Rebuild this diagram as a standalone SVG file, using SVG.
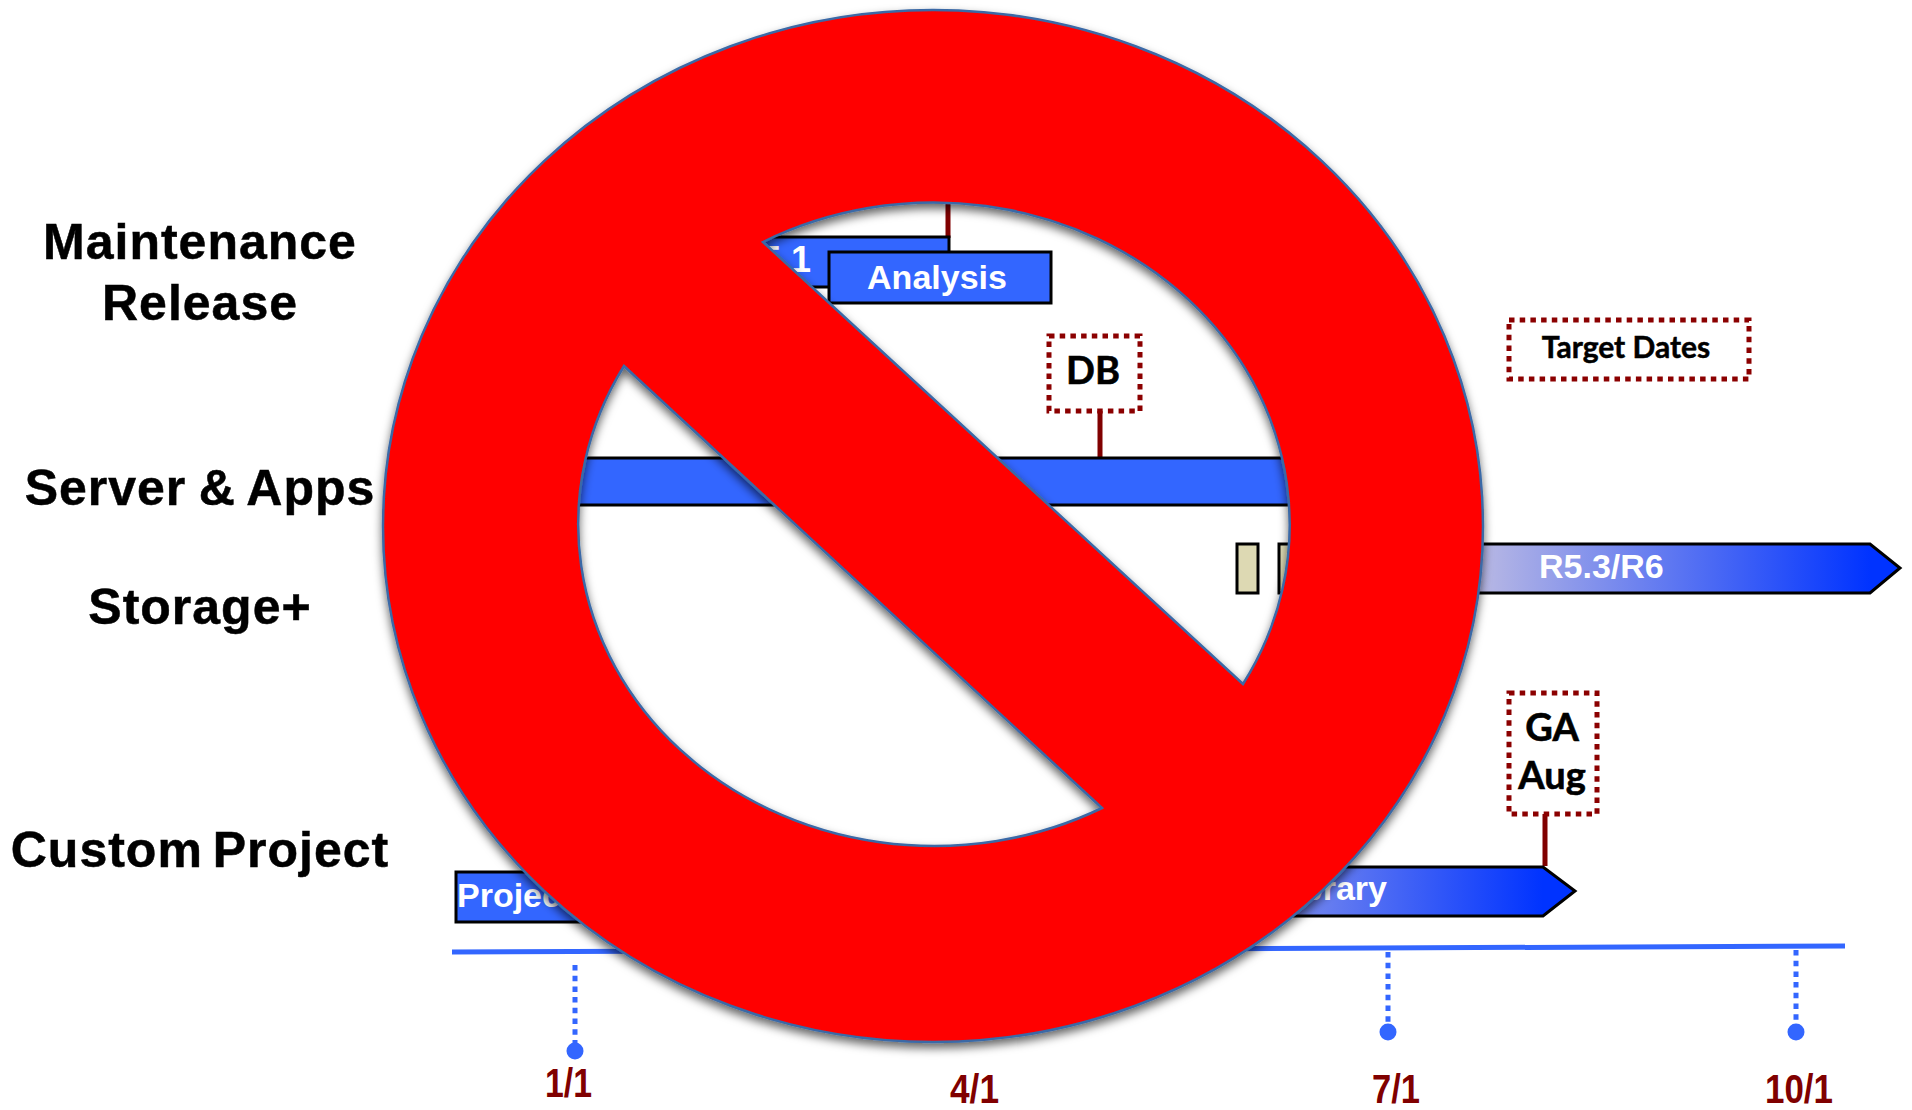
<svg xmlns="http://www.w3.org/2000/svg" width="1912" height="1110" viewBox="0 0 1912 1110">
<style>
.lab{font:bold 50px "Liberation Sans",Arial,sans-serif;fill:#000;stroke:#000;stroke-width:.5;text-anchor:middle;letter-spacing:1px}
.bar{font:bold 34px "Liberation Sans",Arial,sans-serif;fill:#fff}
.tgt{font:bold 38px Lato,"Open Sans",sans-serif;fill:#000;stroke:#000;stroke-width:.6;text-anchor:middle}
.date{font:bold 40px "Liberation Sans",Arial,sans-serif;fill:#800000}
.blue{fill:#3366ff;stroke:#000;stroke-width:3}
.grad{stroke:#000;stroke-width:3}
.beige{fill:#ddd9b3;stroke:#000;stroke-width:3}
.dot{fill:#fff;stroke:#8b0000;stroke-width:5;stroke-dasharray:5.5 5.2}
.stem{stroke:#800000;stroke-width:5;fill:none}
.tick{stroke:#3366ff;stroke-width:5;stroke-dasharray:5.5 5.2;fill:none}
.pin{fill:#3366ff}
</style>
<defs>
<linearGradient id="g1" gradientUnits="userSpaceOnUse" x1="1480" y1="0" x2="1870" y2="0"><stop offset="0" stop-color="#b8b8e4"/><stop offset="1" stop-color="#0033ff"/></linearGradient>
<linearGradient id="g2" gradientUnits="userSpaceOnUse" x1="1153" y1="0" x2="1543" y2="0"><stop offset="0" stop-color="#b8b8e4"/><stop offset="1" stop-color="#0033ff"/></linearGradient>
<filter id="sh" x="-5%" y="-5%" width="110%" height="112%"><feDropShadow dx="0" dy="5" stdDeviation="5" flood-color="#000" flood-opacity="0.6"/></filter>
</defs>
<rect width="1912" height="1110" fill="#fff"/>
<g id="labels">
<text class="lab" x="200" y="259">Maintenance</text>
<text class="lab" x="200" y="320">Release</text>
<text class="lab" x="200" y="505" word-spacing="-2.5">Server &amp; Apps</text>
<text class="lab" x="200" y="624">Storage+</text>
<text class="lab" x="200" y="867" word-spacing="-5">Custom Project</text>
</g>
<g id="connectors">
<path class="stem" d="M948 200V238M1100 411V457M1545 814V866"/>
<path d="M452 952L1845 946" stroke="#3366ff" stroke-width="5" fill="none"/>
<path class="tick" d="M575 965V1045M1388 952V1026M1796 950V1026"/>
<circle class="pin" cx="575" cy="1051" r="8.5"/>
<circle class="pin" cx="1388" cy="1032" r="8.5"/>
<circle class="pin" cx="1796" cy="1032" r="8.5"/>
</g>
<g id="maint-bar"><rect class="blue" x="700" y="237" width="249" height="50"/><text class="bar" style="font-size:36px" x="811" y="272" text-anchor="end">5.1</text></g>
<g id="analysis"><rect class="blue" x="829" y="252" width="222" height="51"/><text class="bar" x="937" y="289" text-anchor="middle">Analysis</text></g>
<g id="db"><rect class="dot" x="1049" y="336" width="91" height="75"/><text class="tgt" x="1093" y="384">DB</text></g>
<g id="server-bar"><rect class="blue" x="500" y="458" width="820" height="47"/></g>
<g id="target"><rect class="dot" x="1509" y="320" width="240" height="59"/><text class="tgt" style="font-size:30px;stroke-width:.5" x="1626" y="358">Target Dates</text></g>
<g id="storage-m1"><rect class="beige" x="1237" y="544" width="21" height="49"/></g>
<g id="storage-m2"><rect class="beige" x="1279" y="544" width="40" height="49"/></g>
<g id="r53"><path class="grad" fill="url(#g1)" d="M1400 544H1870L1900 568L1870 593H1400Z"/><text class="bar" x="1539" y="578">R5.3/R6</text></g>
<g id="ga"><rect class="dot" x="1509" y="693" width="88" height="121"/><text class="tgt" x="1552" y="741">GA</text><text class="tgt" x="1552" y="789">Aug</text></g>
<g id="library"><path class="grad" fill="url(#g2)" d="M1200 867H1543L1575 891L1543 916H1200Z"/><text class="bar" x="1387" y="900" text-anchor="end">brary</text></g>
<g id="project"><rect class="blue" x="456" y="872" width="200" height="50"/><text class="bar" x="457" y="907">Projec</text></g>
<g id="dates">
<text class="date" x="545" y="1097" textLength="47" lengthAdjust="spacingAndGlyphs">1/1</text>
<text class="date" x="950" y="1103" textLength="49" lengthAdjust="spacingAndGlyphs">4/1</text>
<text class="date" x="1372" y="1103" textLength="48" lengthAdjust="spacingAndGlyphs">7/1</text>
<text class="date" x="1765" y="1103" textLength="68" lengthAdjust="spacingAndGlyphs">10/1</text>
</g>
<g id="no-sign"><path fill="#ff0000" fill-rule="evenodd" stroke="#3a69a6" stroke-width="2.5" filter="url(#sh)" d="M383 526A550 516 0 1 1 1483 526A550 516 0 1 1 383 526ZM763 242L1243 684A356 322 0 0 0 763 242ZM624 366L1102 808A356 322 0 0 1 624 366Z"/></g>
</svg>
